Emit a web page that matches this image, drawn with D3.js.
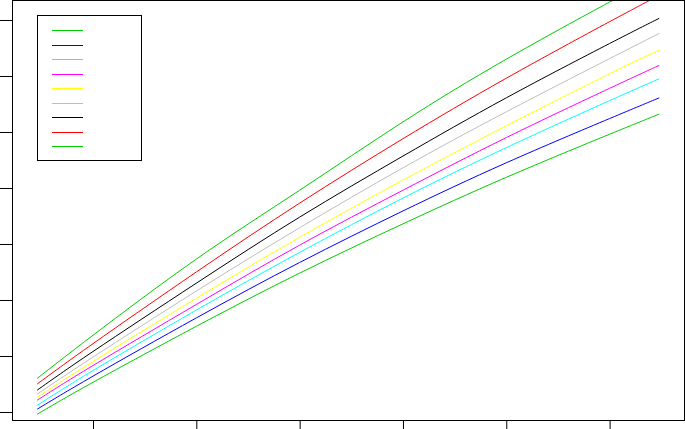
<!DOCTYPE html>
<html>
<head>
<meta charset="utf-8">
<script src="https://cdn.jsdelivr.net/npm/d3@7/dist/d3.min.js"></script>
<style>
  html, body { margin: 0; padding: 0; background: #fff; }
  svg { display: block; }
</style>
</head>
<body>
<svg id="chart" width="685" height="429"></svg>
<script>
// age points (x) and the curves, lowest to highest
var ages = [0.46, 1, 2, 3, 4, 5, 6, 6.48]
var xTicks = [1, 2, 3, 4, 5, 6]
var yTicks = [0, 1, 2, 3, 4, 5, 6, 7]

var seriesNames = ["P3", "P5", "P10", "P25", "P50", "P75", "P90", "P95", "P97"]
var seriesColors = ["#00cd00", "#0000ff", "#00ffff", "#ff00ff", "#ffff00", "#bebebe", "#000000", "#ff0000", "#00cd00"]

var p3  = [-0.04, 0.53, 1.53, 2.48, 3.36, 4.19, 4.96, 5.32]
var p5  = [0.05, 0.64, 1.68, 2.67, 3.59, 4.45, 5.24, 5.61]
var p10 = [0.12, 0.74, 1.82, 2.85, 3.82, 4.72, 5.56, 5.95]
var p25 = [0.21, 0.83, 1.92, 2.98, 3.96, 4.90, 5.78, 6.19]
var p50 = [0.26, 0.90, 2.03, 3.12, 4.14, 5.11, 6.04, 6.46]
var p75 = [0.32, 0.98, 2.16, 3.29, 4.36, 5.36, 6.31, 6.76]
var p90 = [0.39, 1.08, 2.30, 3.48, 4.57, 5.61, 6.58, 7.03]
var p95 = [0.50, 1.22, 2.50, 3.73, 4.88, 5.96, 6.97, 7.44]
var p97 = [0.60, 1.37, 2.73, 3.96, 5.18, 6.30, 7.32, 7.78]

var series = [p3, p5, p10, p25, p50, p75, p90, p95, p97]

!(function(){
    "use strict"

    var svg = d3.select("#chart")
    var left = 12, right = 684, top = 0, bottom = 420

    var x = d3.scaleLinear().domain([0.216, 6.72]).range([left, right])
    var y = d3.scaleLinear().domain([-0.143, 7.357]).range([bottom, top])

    svg.append("clipPath").attr("id", "plotclip")
        .append("rect")
        .attr("x", left).attr("y", top)
        .attr("width", right - left).attr("height", bottom - top)

    var line = d3.line()
        .x(function(d, i) { return x(ages[i]) })
        .y(function(d) { return y(d) })
        .curve(d3.curveNatural)

    svg.append("g").attr("clip-path", "url(#plotclip)")
        .selectAll("path")
        .data(series)
        .enter()
        .append("path")
        .attr("d", line)
        .attr("fill", "none")
        .attr("stroke", function(d, i) { return seriesColors[i] })
        .attr("stroke-width", 1)

    // axes, no labels
    var xAxis = d3.axisBottom(x).tickValues(xTicks).tickFormat("").tickSize(10).tickSizeOuter(0)
    var yAxis = d3.axisLeft(y).tickValues(yTicks).tickFormat("").tickSize(12).tickSizeOuter(0)

    svg.append("g").attr("transform", "translate(0," + bottom + ")").call(xAxis)
    svg.append("g").attr("transform", "translate(" + left + ",0)").call(yAxis)
    svg.selectAll(".domain").remove()
    svg.selectAll(".tick line").attr("stroke", "#000")

    // frame
    svg.append("rect")
        .attr("x", left + 0.5).attr("y", top + 0.5)
        .attr("width", right - left).attr("height", bottom - top)
        .attr("fill", "none").attr("stroke", "#000")

    // legend (lines only, from top: lowest curve first)
    var lg = svg.append("g")
    lg.append("rect")
        .attr("x", 37.5).attr("y", 15.5)
        .attr("width", 104).attr("height", 145)
        .attr("fill", "#fff").attr("stroke", "#000")

    lg.selectAll("line.key")
        .data(seriesNames)
        .enter()
        .append("line")
        .attr("class", "key")
        .attr("x1", 52).attr("x2", 83)
        .attr("y1", function(d, i) { return Math.round(30 + i * 14.5) + 0.5 })
        .attr("y2", function(d, i) { return Math.round(30 + i * 14.5) + 0.5 })
        .attr("stroke", function(d, i) { return seriesColors[i] })
        .attr("stroke-width", 1)
}());
</script>
</body>
</html>
